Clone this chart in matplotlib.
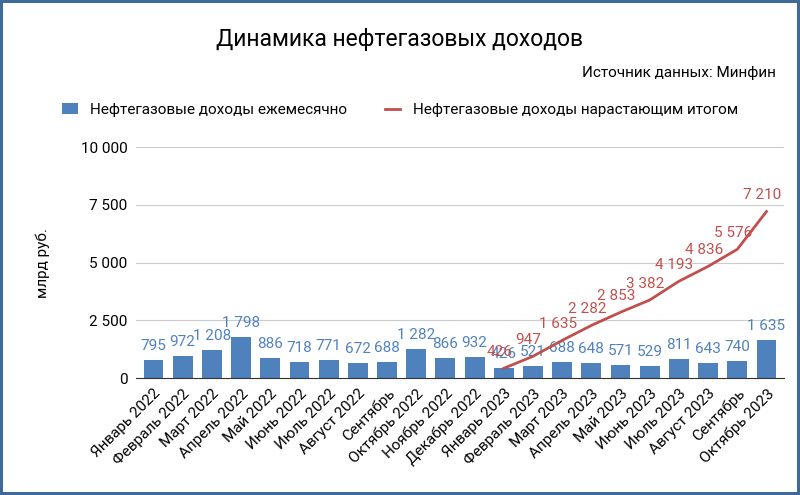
import matplotlib
matplotlib.use("Agg")
import matplotlib.pyplot as plt
import numpy as np

plt.rcParams["font.family"] = "Roboto"

months = ["Январь 2022","Февраль 2022","Март 2022","Апрель 2022","Май 2022","Июнь 2022",
          "Июль 2022","Август 2022","Сентябрь","Октябрь 2022","Ноябрь 2022","Декабрь 2022",
          "Январь 2023","Февраль 2023","Март 2023","Апрель 2023","Май 2023","Июнь 2023",
          "Июль 2023","Август 2023","Сентябрь","Октябрь 2023"]
monthly = [795, 972, 1208, 1798, 886, 718, 771, 672, 688, 1282, 866, 932,
           426, 521, 688, 648, 571, 529, 811, 643, 740, 1635]
cumulative_2023 = [426, 947, 1635, 2282, 2853, 3382, 4193, 4836, 5576, 7210]

def fmt(v):
    return f"{v:,}".replace(",", " ")

blue = "#4f81bd"
red = "#c0504d"

fig = plt.figure(figsize=(8, 4.95), dpi=100)
fig.patch.set_edgecolor("#3d6a99")
fig.patch.set_linewidth(3)
ax = fig.add_axes([0.17, 0.236, 0.81, 0.467])
x = np.arange(len(months))
bars = ax.bar(x, monthly, width=0.68, color=blue, zorder=2)
for xi, v in zip(x, monthly):
    ax.text(xi, v + 300, fmt(v), ha="center", va="bottom", color=blue, fontsize=11)
cx = x[12:]
line, = ax.plot(cx, cumulative_2023, color=red, lw=2, zorder=3)
for xi, v in zip(cx, cumulative_2023):
    ax.text(xi - 0.15, v + 400, fmt(v), ha="center", va="bottom", color=red, fontsize=11)

ax.set_ylim(0, 10000)
ax.set_xlim(-0.6, len(months) - 0.4)
ax.set_yticks([0, 2500, 5000, 7500, 10000])
ax.set_yticklabels([fmt(v) for v in [0, 2500, 5000, 7500, 10000]], fontsize=11)
ax.set_xticks(x)
ax.set_xticklabels(months, rotation=45, ha="right", rotation_mode="anchor", fontsize=11)
ax.tick_params(length=0, pad=6)
ax.grid(axis="y", color="#cccccc", lw=0.8, zorder=0)
for s in ["top", "right", "left"]:
    ax.spines[s].set_visible(False)
ax.spines["bottom"].set_color("#333333")
ax.set_ylabel("млрд руб.", fontsize=11, labelpad=22)

fig.text(0.5, 0.92, "Динамика нефтегазовых доходов", ha="center", va="center", fontsize=16.5)
fig.text(0.97, 0.852, "Источник данных: Минфин", ha="right", va="center", fontsize=11)
fig.legend([bars, line], ["Нефтегазовые доходы ежемесячно", "Нефтегазовые доходы нарастающим итогом"],
           loc="center", bbox_to_anchor=(0.5, 0.778), ncol=2, frameon=False, fontsize=11,
           handlelength=1.0, columnspacing=2.5)
fig.savefig("out.png", dpi=100, edgecolor=fig.get_edgecolor())
